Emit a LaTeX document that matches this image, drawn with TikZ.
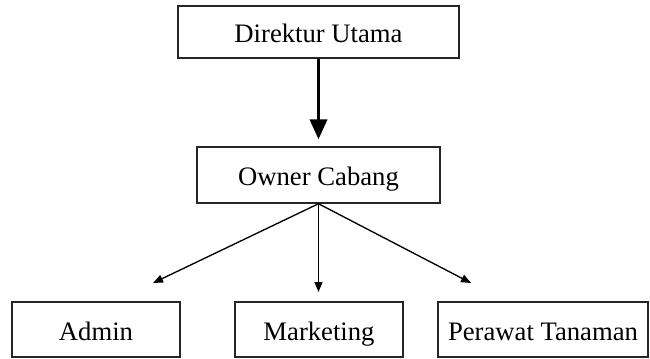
\documentclass[tikz,border=0pt]{standalone}
\usepackage{fontspec}
\setmainfont{Liberation Serif}
\usepackage{tikz}
\usetikzlibrary{arrows.meta, positioning}

\begin{document}
\begin{tikzpicture}[x=0.75pt, y=-0.75pt,
    orgbox/.style={draw=black!85, line width=1.1pt, rectangle, inner sep=0pt, text height=16pt, text depth=0pt, font=\fontsize{20}{24}\selectfont},
    bigarrow/.style={line width=2.2pt, -{Triangle[length=15pt, width=13pt]}},
    smallarrow/.style={line width=1pt, -{Triangle[length=7.5pt, width=6pt]}}]
  \useasboundingbox (0,0) rectangle (650,358);

  % Top level
  \node[orgbox, minimum width=210.75pt, minimum height=39pt] (direktur) at (318.5, 32) {Direktur Utama};
  \node[orgbox, minimum width=182.25pt, minimum height=42pt] (owner) at (318.5, 175) {Owner Cabang};

  % Staff
  \node[orgbox, minimum width=126pt, minimum height=41.25pt] (admin) at (96, 329.5) {Admin};
  \node[orgbox, minimum width=126pt, minimum height=41.25pt] (marketing) at (319, 329.5) {Marketing};
  \node[orgbox, minimum width=157.5pt, minimum height=41.25pt] (perawat) at (543, 329.5) {Perawat Tanaman};

  % Arrow tips
  \coordinate (tipadmin) at (153, 283);
  \coordinate (tipmarketing) at (318.5, 292);
  \coordinate (tipperawat) at (471, 283);

  \draw[bigarrow] (direktur.south) -- ([yshift=5.25pt]owner.north);
  \draw[smallarrow] (owner.south) -- (tipadmin);
  \draw[smallarrow] (owner.south) -- (tipmarketing);
  \draw[smallarrow] (owner.south) -- (tipperawat);
\end{tikzpicture}
\end{document}
